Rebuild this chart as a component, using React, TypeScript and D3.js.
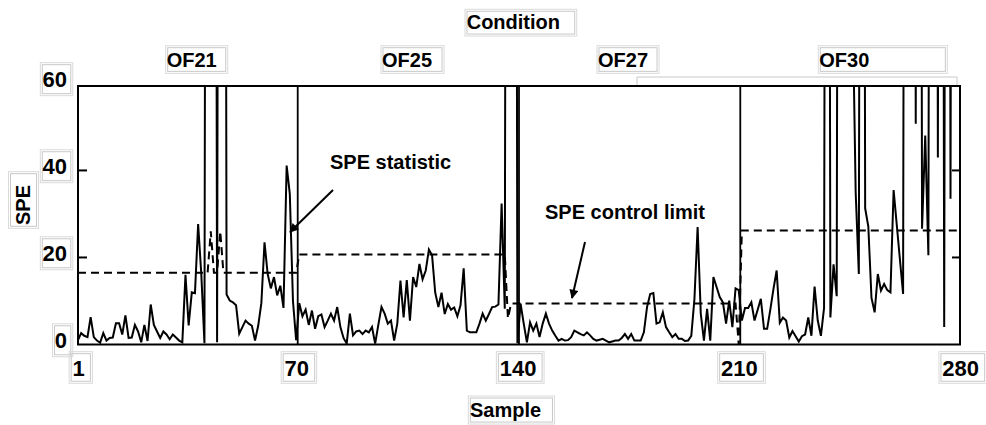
import React, { useEffect, useRef } from 'react';
import * as d3 from 'd3';

const conditions = ['OF21', 'OF25', 'OF27', 'OF30'];
const samplesPerCondition = 70;
const xTicks = [1, 70, 140, 210, 280];
const yTicks = [0, 20, 40, 60];
const limitLevels = [16.5, 20.7, 9.4, 26.2];
const limitOverrides: [number, number][] = [[43, 26], [46, 26], [137, 6], [138, 9.4], [139, 9.4], [140, 9.4], [210, 0]];

const of21 = [
  1.0, 2.6, 2.0, 1.7, 6.3, 1.7, 0.9, 0.4, 2.6, 0.9,
  1.5, 1.6, 4.9, 4.9, 2.3, 6.7, 1.5, 1.6, 4.5, 3.0,
  0.5, 4.5, 0.8, 9.2, 4.5, 3.0, 1.5, 3.0, 2.3, 1.2,
  2.3, 1.6, 0.9, 0.5, 16.0, 4.4, 12.0, 11.8, 27.7, 16.2,
  0.3, 400, 400, 400, 0.5, 400, 400, 11.5, 10.1, 9.7,
  9.0, 2.5, 4.0, 5.5, 4.8, 4.3, 0.9, 4.3, 9.5, 23.5,
  16.2, 12.9, 15.5, 11.3, 13.5, 8.4, 41.1, 34.6, 10.0, 1.0,
];
const of25 = [
  9.5, 6.5, 8.0, 4.5, 7.8, 3.6, 6.5, 6.9, 4.0, 5.5,
  7.1, 5.5, 8.6, 4.0, 1.5, 0.2, 7.1, 2.1, 3.0, 3.2,
  2.4, 3.2, 2.8, 4.0, 0.2, 4.5, 8.6, 7.1, 4.8, 5.5,
  0.9, 4.8, 14.7, 6.2, 14.8, 5.5, 15.5, 13.2, 18.5, 15.0,
  17.0, 21.8, 20.5, 11.9, 8.6, 11.9, 7.0, 9.3, 8.0, 8.5,
  6.5, 9.0, 17.5, 3.2, 2.8, 2.8, 2.8, 4.8, 7.1, 5.5,
  7.0, 8.6, 8.7, 9.2, 32.4, 8.2, 400, 400, 400, 0.3,
];
const of27 = [
  9.4, 4.8, 0.5, 5.1, 3.2, 4.8, 1.7, 4.8, 7.1, 4.8,
  3.2, 2.0, 0.9, 1.3, 0.9, 1.0, 1.7, 3.2, 2.8, 2.4,
  2.1, 2.8, 2.1, 1.3, 0.9, 1.1, 1.3, 0.9, 0.5, 0.7,
  0.9, 0.9, 1.5, 2.4, 1.3, 2.4, 0.9, 0.9, 0.9, 2.8,
  8.6, 11.6, 11.8, 4.8, 5.1, 7.4, 4.0, 2.8, 1.7, 2.4,
  1.3, 1.3, 0.8, 0.9, 2.0, 10.5, 27.0, 7.1, 0.9, 8.2,
  0.9, 15.5, 13.2, 10.9, 9.7, 4.8, 10.1, 4.0, 12.9, 12.5,
];
const of30 = [
  5.5, 8.4, 8.4, 9.7, 5.5, 8.0, 10.5, 3.6, 3.6, 8.0,
  12.8, 17.0, 5.0, 6.2, 5.5, 1.6, 3.1, 1.9, 0.7, 1.9,
  2.3, 6.2, 2.0, 13.3, 5.5, 2.0, 8.4, 400, 6.2, 18.4,
  11.1, 400, 400, 400, 400, 80, 35, 16.2, 400, 31.3,
  27.1, 10.7, 7.4, 16.2, 12.4, 13.9, 12.5, 12.0, 35.5, 27.5,
  19.5, 11.6, 400, 400, 400, 50.7, 400, 26.6, 48.0, 20.5,
  400, 400, 43.0, 400, 4.0, 400, 33.5, 400, 400, 400,
];

const FONT = "'Liberation Sans', Arial, Helvetica, sans-serif";

type Pads = [number, number, number, number];

function boxed(
  g: d3.Selection<SVGGElement, unknown, null, undefined>,
  str: string,
  x: number,
  y: number,
  size: number,
  anchor: string,
  pads: Pads,
  rotate = 0,
) {
  const grp = g.append('g').attr('transform', `translate(${x},${y}) rotate(${rotate})`);
  const t = grp
    .append('text')
    .attr('font-size', size)
    .attr('font-weight', 'bold')
    .attr('font-family', FONT)
    .attr('text-anchor', anchor)
    .attr('fill', '#000')
    .text(str);
  const b = (t.node() as SVGTextElement).getBBox();
  const [pl, pr, pt, pb] = pads;
  const top = -0.905 * size;
  const h = 1.117 * size;
  const bx = b.x - pl;
  const by = top - pt;
  const bw = b.width + pl + pr;
  const bh = h + pt + pb;
  grp.insert('rect', 'text').attr('x', bx).attr('y', by).attr('width', bw).attr('height', bh)
    .attr('fill', 'none').attr('stroke', '#dadada').attr('stroke-width', 1);
  grp.insert('rect', 'text').attr('x', bx + 2).attr('y', by + 2).attr('width', bw - 4).attr('height', bh - 4)
    .attr('fill', 'none').attr('stroke', '#c8c8c8').attr('stroke-width', 1);
}

export default function App() {
  const ref = useRef<SVGSVGElement>(null);

  useEffect(() => {
    const svg = d3.select(ref.current as SVGSVGElement);
    svg.selectAll('*').remove();
    const root = svg.append('g') as d3.Selection<SVGGElement, unknown, null, undefined>;

    const left = 78, right = 960, top = 86, bottom = 344.5;
    const x = d3.scaleLinear().domain([1, 280]).range([left, right]);
    const y = d3.scaleLinear().domain([0, 60]).range([bottom, 83.4]);

    const series = [of21, of25, of27, of30].flat();
    const data = series.map((v, i) => ({ i: i + 1, v }));
    const limit = series.map((_, i) => {
      const s = i + 1;
      const ov = limitOverrides.find((o) => o[0] === s);
      if (ov) return { i: s, v: ov[1] };
      return { i: s, v: limitLevels[Math.floor(i / samplesPerCondition)] };
    });

    const defs = svg.append('defs');
    defs.append('clipPath').attr('id', 'plotclip').append('rect')
      .attr('x', left).attr('y', top).attr('width', right - left).attr('height', bottom - top);
    defs.append('marker').attr('id', 'arrowhead').attr('viewBox', '0 0 10 10')
      .attr('refX', 9).attr('refY', 5).attr('markerWidth', 10).attr('markerHeight', 9)
      .attr('markerUnits', 'userSpaceOnUse').attr('orient', 'auto')
      .append('path').attr('d', 'M0,0 L10,5 L0,10 z').attr('fill', '#000');

    // grey leftover box line
    root.append('path').attr('d', `M637,${top} V77 H957 V${top}`)
      .attr('fill', 'none').attr('stroke', '#c8c8c8').attr('stroke-width', 1);

    const plot = root.append('g').attr('clip-path', 'url(#plotclip)');

    // condition separators
    conditions.slice(0, -1).forEach((_, k) => {
      const xs = x((k + 1) * samplesPerCondition + 0.5);
      plot.append('line').attr('x1', xs).attr('x2', xs).attr('y1', top).attr('y2', bottom)
        .attr('stroke', '#000').attr('stroke-width', 1.8);
    });

    const lineGen = d3.line<{ i: number; v: number }>().x((d) => x(d.i)).y((d) => y(d.v));

    plot.append('path').attr('d', lineGen(limit) as string)
      .attr('fill', 'none').attr('stroke', '#000').attr('stroke-width', 2)
      .attr('stroke-dasharray', '8,5');

    plot.append('path').attr('d', lineGen(data) as string)
      .attr('fill', 'none').attr('stroke', '#000').attr('stroke-width', 2)
      .attr('stroke-linejoin', 'miter');

    // frame
    root.append('rect').attr('x', left).attr('y', top).attr('width', right - left).attr('height', bottom - top)
      .attr('fill', 'none').attr('stroke', '#000').attr('stroke-width', 2);

    // inner ticks left and right
    yTicks.filter((t) => t > 0 && t < 60).forEach((t) => {
      root.append('line').attr('x1', left).attr('x2', left + 9).attr('y1', y(t)).attr('y2', y(t))
        .attr('stroke', '#000').attr('stroke-width', 2);
      root.append('line').attr('x1', right - 8).attr('x2', right).attr('y1', y(t)).attr('y2', y(t))
        .attr('stroke', '#000').attr('stroke-width', 2);
    });

    // tick labels
    yTicks.forEach((t) => boxed(root, String(t), 67, y(t) + 3.9, 22, 'end', [2.2, 5.8, 4.7, 3.7]));
    xTicks.forEach((t) => boxed(root, String(t), x(t) + 0.7, 376, 22, 'middle', [3.4, 7.6, 4.4, 2.6]));

    // titles
    boxed(root, 'Condition', 466.7, 29.3, 20, 'start', [1.7, 16.7, 1.9, 2.5]);
    const condX = [166.7, 382, 598, 819.3];
    const condPadR = [11, 12, 11, 78];
    conditions.forEach((c, k) => boxed(root, c, condX[k], 66.7, 20, 'start', [1, condPadR[k], 2.9, 2.4]));
    boxed(root, 'Sample', 470, 416.7, 20, 'start', [1.7, 13.3, 2.6, 3.1]);
    boxed(root, 'SPE', 30.2, 225, 20, 'start', [3.3, 13.3, 3.6, 4.1], -90);

    // annotations
    root.append('text').attr('x', 330).attr('y', 169).attr('font-size', 20).attr('font-weight', 'bold')
      .attr('font-family', FONT).text('SPE statistic');
    root.append('text').attr('x', 545).attr('y', 219.3).attr('font-size', 20).attr('font-weight', 'bold')
      .attr('font-family', FONT).text('SPE control limit');
    root.append('line').attr('x1', 333).attr('y1', 190).attr('x2', 290).attr('y2', 232)
      .attr('stroke', '#000').attr('stroke-width', 2).attr('marker-end', 'url(#arrowhead)');
    root.append('line').attr('x1', 585).attr('y1', 242).attr('x2', 572).attr('y2', 298)
      .attr('stroke', '#000').attr('stroke-width', 2).attr('marker-end', 'url(#arrowhead)');
  }, []);

  return (
    <svg
      ref={ref}
      width={986}
      height={425}
      style={{ position: 'absolute', left: 0, top: 0, background: '#fff' }}
    />
  );
}
